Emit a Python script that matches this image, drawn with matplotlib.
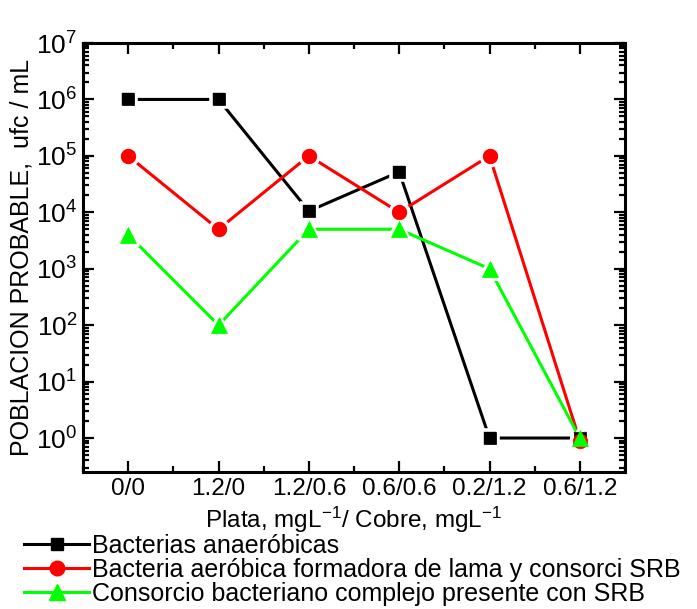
import matplotlib
matplotlib.use("Agg")
import matplotlib.pyplot as plt
from matplotlib.lines import Line2D
from matplotlib.markers import MarkerStyle
from matplotlib.ticker import LogLocator, FixedLocator, NullFormatter

plt.rcParams['font.family'] = ['Liberation Sans', 'DejaVu Sans']
plt.rcParams['mathtext.fontset'] = 'custom'
plt.rcParams['mathtext.rm'] = 'Liberation Sans'
plt.rcParams['mathtext.it'] = 'Liberation Sans'
plt.rcParams['mathtext.default'] = 'regular'

# data
categories = ["0/0", "1.2/0", "1.2/0.6", "0.6/0.6", "0.2/1.2", "0.6/1.2"]
anaerobicas = [1e6, 1e6, 1.05e4, 5.2e4, 1.0, 1.0]
aerobica = [1e5, 5e3, 1e5, 1e4, 1e5, 0.9]
consorcio = [4e3, 1e2, 5e3, 5e3, 1e3, 1.0]

labels = ["Bacterias anaeróbicas",
          "Bacteria aeróbica formadora de lama y consorci SRB",
          "Consorcio bacteriano complejo presente con SRB"]
colors = ['black', '#ff0000', '#00ff00']
markers = ['s', 'o', '^']
sizes = [8.5, 10.5, 11.5]

x = list(range(len(categories)))

fig = plt.figure(figsize=(6.97, 6.09), dpi=100)
ax = fig.add_axes([83 / 697, 1 - 472 / 609, (625 - 83) / 697, (472 - 43) / 609])

# lines with a white marker edge -> small gap where the line meets the symbol,
# then the coloured symbols again on top so they don't hide each other
gap = 2.6
series = [anaerobicas, aerobica, consorcio]
for ys, c, m, s in zip(series, colors, markers, sizes):
    ax.plot(x, ys, color=c, lw=2.2, marker=MarkerStyle(m, joinstyle='round'),
            ms=s + gap, mfc=c, mec='white', mew=gap, zorder=2)
for ys, c, m, s in zip(series, colors, markers, sizes):
    ax.plot(x, ys, ls='none', marker=m, ms=s, mfc=c, mec=c, mew=0.5, zorder=3)

ax.set_yscale('log')
ax.set_ylim(0.25, 1e7)
ax.set_xlim(-0.5, 5.5)
ax.set_xticks(x)
ax.set_xticklabels(categories, fontsize=17.5)
ax.xaxis.set_minor_locator(FixedLocator([i + 0.5 for i in range(-1, 6)]))
ax.yaxis.set_major_locator(LogLocator(base=10, numticks=20))
ax.yaxis.set_minor_locator(LogLocator(base=10, subs=range(2, 10), numticks=20))
ax.yaxis.set_minor_formatter(NullFormatter())

ax.tick_params(axis='both', which='both', direction='in', top=True, right=True, width=1.6)
ax.tick_params(axis='both', which='major', length=8)
ax.tick_params(axis='both', which='minor', length=4)
ax.tick_params(axis='y', which='major', labelsize=19, pad=4)
ax.tick_params(axis='x', which='major', pad=4)
for s in ax.spines.values():
    s.set_linewidth(2.2)

ax.set_xlabel("Plata, mgL$^{-1}$/ Cobre, mgL$^{-1}$", fontsize=17.5, labelpad=4)
ax.set_ylabel("POBLACION PROBABLE,  ufc / mL", fontsize=18, labelpad=2)

handles = [Line2D([], [], color=c, lw=2.2, marker=m, ms=s, mec=c)
           for c, m, s in zip(colors, markers, sizes)]
fig.legend(handles, labels, loc='upper left', bbox_to_anchor=(24 / 697, 1 - 534 / 609),
           frameon=False, fontsize=18, handlelength=2.6, handletextpad=0.1,
           labelspacing=0.0, borderpad=0, borderaxespad=0)

fig.savefig("out.png", dpi=100)
